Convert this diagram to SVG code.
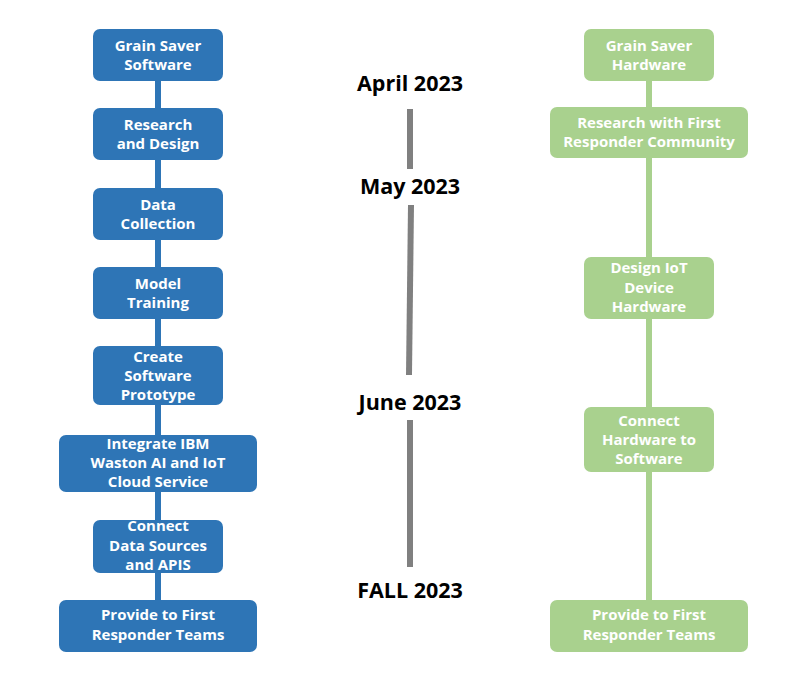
<svg xmlns="http://www.w3.org/2000/svg" width="808" height="685" viewBox="0 0 808 685">
<style>
.b{fill:#2E75B6}
.g{fill:#A9D18E}
.t{font-family:"Open Sans","Noto Sans",sans-serif;font-weight:bold;font-size:15px;fill:#fff;text-anchor:middle}
.m{font-family:"Open Sans","Noto Sans",sans-serif;font-weight:bold;font-size:21.5px;fill:#000;text-anchor:middle}
</style>
<rect width="808" height="685" fill="#fff"/>
<g id="connectors">
<rect x="155" y="80" width="6" height="525" fill="#2E75B6"/>
<rect x="646" y="80" width="6" height="525" fill="#A9D18E"/>
<rect x="407" y="109" width="6" height="60" fill="#808080"/>
<line x1="411" y1="205" x2="409" y2="375" stroke="#808080" stroke-width="6"/>
<rect x="407" y="420" width="6" height="147" fill="#808080"/>
</g>
<g id="s1"><rect class="b" x="93" y="29" width="130" height="52" rx="7"/><text class="t" x="158" y="51">Grain Saver</text><text class="t" x="158" y="70">Software</text></g>
<g id="s2"><rect class="b" x="93" y="108" width="130" height="52" rx="7"/><text class="t" x="158" y="130">Research</text><text class="t" x="158" y="149">and Design</text></g>
<g id="s3"><rect class="b" x="93" y="188" width="130" height="52" rx="7"/><text class="t" x="158" y="210">Data</text><text class="t" x="158" y="229">Collection</text></g>
<g id="s4"><rect class="b" x="93" y="267" width="130" height="52" rx="7"/><text class="t" x="158" y="289">Model</text><text class="t" x="158" y="308">Training</text></g>
<g id="s5"><rect class="b" x="93" y="346" width="130" height="59" rx="7"/><text class="t" x="158" y="362">Create</text><text class="t" x="158" y="381">Software</text><text class="t" x="158" y="400">Prototype</text></g>
<g id="s6"><rect class="b" x="59" y="435" width="198" height="57" rx="7"/><text class="t" x="158" y="449">Integrate IBM</text><text class="t" x="158" y="468">Waston AI and IoT</text><text class="t" x="158" y="487">Cloud Service</text></g>
<g id="s7"><rect class="b" x="93" y="520" width="130" height="53" rx="7"/><text class="t" x="158" y="531">Connect</text><text class="t" x="158" y="551">Data Sources</text><text class="t" x="158" y="570">and APIS</text></g>
<g id="s8"><rect class="b" x="59" y="600" width="198" height="52" rx="7"/><text class="t" x="158" y="620">Provide to First</text><text class="t" x="158" y="640">Responder Teams</text></g>
<g id="h1"><rect class="g" x="584" y="29" width="130" height="52" rx="7"/><text class="t" x="649" y="51">Grain Saver</text><text class="t" x="649" y="70">Hardware</text></g>
<g id="h2"><rect class="g" x="550" y="107" width="198" height="51" rx="7"/><text class="t" x="649" y="128">Research with First</text><text class="t" x="649" y="147">Responder Community</text></g>
<g id="h3"><rect class="g" x="584" y="257" width="130" height="62" rx="7"/><text class="t" x="649" y="273">Design IoT</text><text class="t" x="649" y="293">Device</text><text class="t" x="649" y="312">Hardware</text></g>
<g id="h4"><rect class="g" x="584" y="407" width="130" height="65" rx="7"/><text class="t" x="649" y="426">Connect</text><text class="t" x="649" y="445">Hardware to</text><text class="t" x="649" y="464">Software</text></g>
<g id="h5"><rect class="g" x="550" y="600" width="198" height="52" rx="7"/><text class="t" x="649" y="620">Provide to First</text><text class="t" x="649" y="640">Responder Teams</text></g>
<g id="dates">
<text class="m" x="410" y="91">April 2023</text>
<text class="m" x="410" y="194">May 2023</text>
<text class="m" x="410" y="410">June 2023</text>
<text class="m" x="410" y="598">FALL 2023</text>
</g>
</svg>
